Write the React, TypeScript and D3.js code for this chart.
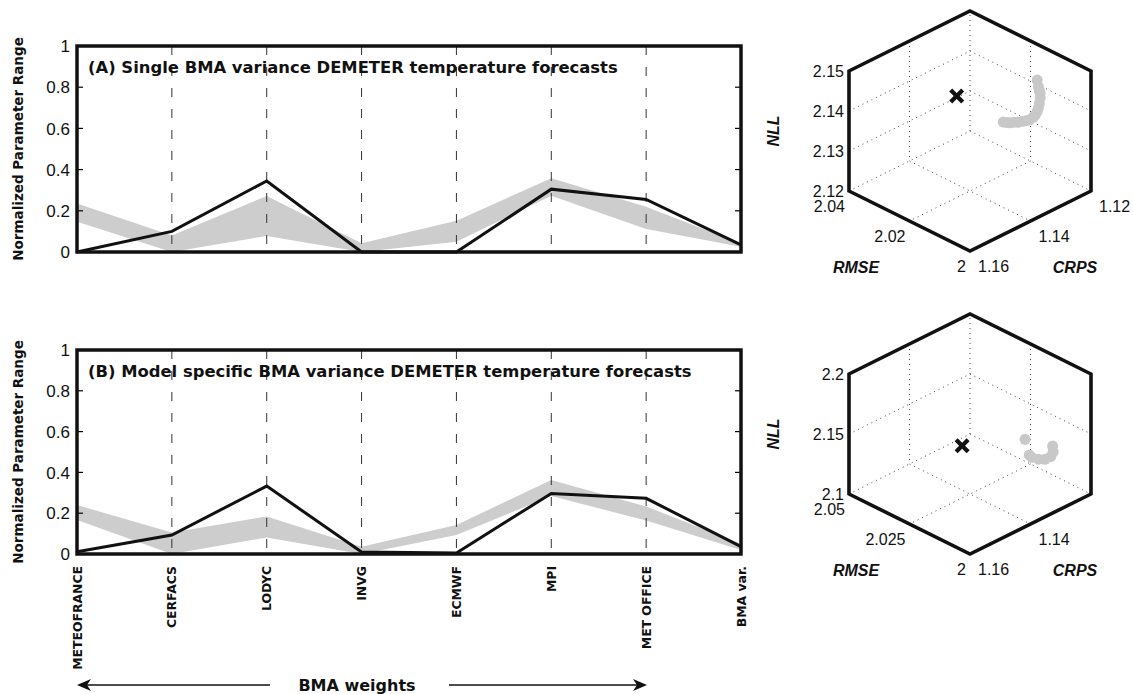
import React from 'react';
import * as d3 from 'd3';

// ---------- data: parallel coordinate panels ----------
const categories = ['METEOFRANCE', 'CERFACS', 'LODYC', 'INVG', 'ECMWF', 'MPI', 'MET OFFICE', 'BMA var.'];
const yTicks = [0, 0.2, 0.4, 0.6, 0.8, 1];
const yTickLabels = ['0', '0.2', '0.4', '0.6', '0.8', '1'];

const bestA = [0, 0.1, 0.345, 0, 0, 0.305, 0.255, 0.035];
const bandUpperA = [0.236, 0.08, 0.272, 0.042, 0.152, 0.358, 0.22, 0.04];
const bandLowerA = [0.147, 0, 0.078, 0, 0.05, 0.273, 0.112, 0.025];

const bestB = [0.011, 0.093, 0.333, 0.01, 0.005, 0.297, 0.273, 0.036];
const bandUpperB = [0.24, 0.105, 0.184, 0.036, 0.142, 0.363, 0.233, 0.05];
const bandLowerB = [0.167, 0, 0.081, 0, 0.093, 0.284, 0.164, 0.02];

const titleA = '(A) Single BMA variance DEMETER temperature forecasts';
const titleB = '(B) Model specific BMA variance DEMETER temperature forecasts';

// ---------- data: 3-D objective space (hexagon plots) ----------
const rmseDomainA = [2.04, 2.0];
const crpsDomainA = [1.16, 1.12];
const nllDomainA = [2.12, 2.15];
const rmseTicksA = [2.04, 2.02, 2];
const rmseTickLabelsA = ['2.04', '2.02', '2'];
const crpsTicksA = [1.16, 1.14, 1.12];
const crpsTickLabelsA = ['1.16', '1.14', '1.12'];
const nllTicksA = [2.12, 2.13, 2.14, 2.15];
const nllTickLabelsA = ['2.12', '2.13', '2.14', '2.15'];

const paretoCrpsA = [1.1218, 1.1214, 1.1211, 1.1208, 1.1208, 1.1211, 1.1214, 1.1218, 1.1224, 1.1231, 1.1242, 1.1252, 1.1266, 1.128, 1.1294, 1.1308, 1.1319, 1.133];
const paretoNllA = [2.1424, 2.1406, 2.1395, 2.1388, 2.1376, 2.1363, 2.1352, 2.1345, 2.1339, 2.1336, 2.1334, 2.1336, 2.1339, 2.1342, 2.1347, 2.1351, 2.1356, 2.1361];
const paretoRmseA = [2.016, 2.016, 2.016, 2.016, 2.016, 2.016, 2.016, 2.016, 2.016, 2.016, 2.016, 2.016, 2.016, 2.016, 2.016, 2.016, 2.016, 2.016];
const optimumA = { rmse: 2.0339, crps: 1.1305, nll: 2.135 };

const rmseDomainB = [2.05, 2.0];
const crpsDomainB = [1.16, 1.12];
const nllDomainB = [2.1, 2.2];
const rmseTicksB = [2.05, 2.025, 2];
const rmseTickLabelsB = ['2.05', '2.025', '2'];
const crpsTicksB = [1.16, 1.14];
const crpsTickLabelsB = ['1.16', '1.14'];
const nllTicksB = [2.1, 2.15, 2.2];
const nllTickLabelsB = ['2.1', '2.15', '2.2'];

const paretoCrpsB = [1.1318, 1.1227, 1.1225, 1.1233, 1.1252, 1.1274, 1.1296, 1.1304];
const paretoNllB = [2.1478, 2.1308, 2.1258, 2.1228, 2.1229, 2.1258, 2.1301, 2.133];
const paretoRmseB = [2.0125, 2.0125, 2.0125, 2.0125, 2.0125, 2.0125, 2.0125, 2.0125];
const optimumB = { rmse: 2.035, crps: 1.1346, nll: 2.1234 };

// ---------- layout ----------
const W = 1133;
const H = 694;
const PLOT_LEFT = 77;
const PLOT_RIGHT = 741;
const BOLD_FONT = '"DejaVu Sans", Verdana, sans-serif';
const NUM_FONT = '"Liberation Sans", Arial, Helvetica, sans-serif';
const BAND = '#cdcdcd';

const xScale = d3.scalePoint<string>().domain(categories).range([PLOT_LEFT, PLOT_RIGHT]);

type PanelProps = {
  top: number;
  bottom: number;
  title: string;
  best: number[];
  upper: number[];
  lower: number[];
};

function Panel({ top, bottom, title, best, upper, lower }: PanelProps) {
  const y = d3.scaleLinear().domain([0, 1]).range([bottom, top]);
  const xi = (i: number) => xScale(categories[i]) as number;
  const area = d3
    .area<number>()
    .x((_, i) => xi(i))
    .y0((_, i) => y(lower[i]))
    .y1((d) => y(d));
  const line = d3
    .line<number>()
    .x((_, i) => xi(i))
    .y((d) => y(d));
  const midY = (top + bottom) / 2;
  return (
    <g>
      <path d={area(upper) || ''} fill={BAND} stroke="none" />
      {categories.slice(1, -1).map((c) => (
        <line
          key={c}
          x1={xScale(c)}
          x2={xScale(c)}
          y1={top}
          y2={bottom}
          stroke="#333"
          strokeWidth={1}
          strokeDasharray="9,12"
        />
      ))}
      {yTicks.slice(1, -1).map((t) => (
        <g key={t}>
          <line x1={PLOT_LEFT} x2={PLOT_LEFT + 6} y1={y(t)} y2={y(t)} stroke="#000" strokeWidth={1.2} />
          <line x1={PLOT_RIGHT} x2={PLOT_RIGHT - 6} y1={y(t)} y2={y(t)} stroke="#000" strokeWidth={1.2} />
        </g>
      ))}
      <path d={line(best) || ''} fill="none" stroke="#111" strokeWidth={3} strokeLinejoin="miter" />
      <rect
        x={PLOT_LEFT}
        y={top}
        width={PLOT_RIGHT - PLOT_LEFT}
        height={bottom - top}
        fill="none"
        stroke="#111"
        strokeWidth={3.5}
      />
      {yTicks.map((t, i) => (
        <text
          key={t}
          x={70}
          y={y(t)}
          dy="0.36em"
          textAnchor="end"
          fontFamily={NUM_FONT}
          fontSize={17}
          fill="#111"
        >
          {yTickLabels[i]}
        </text>
      ))}
      <text
        transform={`translate(23,${midY}) rotate(-90)`}
        textAnchor="middle"
        fontFamily={BOLD_FONT}
        fontWeight="bold"
        fontSize={13.5}
        fill="#111"
      >
        Normalized Parameter Range
      </text>
      <text x={88} y={top + 27} fontFamily={BOLD_FONT} fontWeight="bold" fontSize={16.4} fill="#111">
        {title}
      </text>
    </g>
  );
}

type HexProps = {
  ox: number;
  oy: number;
  rmseDomain: number[];
  crpsDomain: number[];
  nllDomain: number[];
  rmseTicks: number[];
  rmseLabels: string[];
  crpsTicks: number[];
  crpsLabels: string[];
  nllTicks: number[];
  nllLabels: string[];
  pRmse: number[];
  pCrps: number[];
  pNll: number[];
  opt: { rmse: number; crps: number; nll: number };
};

const DX = 121;
const DY = 60;
const DZ = 120;

function Hex(props: HexProps) {
  const { ox, oy } = props;
  const sa = d3.scaleLinear().domain(props.rmseDomain).range([0, 1]);
  const sb = d3.scaleLinear().domain(props.crpsDomain).range([0, 1]);
  const sc = d3.scaleLinear().domain(props.nllDomain).range([0, 1]);
  const P = (a: number, b: number, c: number): [number, number] => [
    ox + DX * (a + b),
    oy + DY * (a - b) - DZ * c,
  ];
  const poly = (pts: [number, number][]) => 'M' + pts.map((p) => p.join(',')).join('L');
  const dotted = { stroke: '#444', strokeWidth: 1, strokeDasharray: '1,4', fill: 'none' };

  const grid: string[] = [];
  grid.push(poly([P(0, 1, 0), P(0, 1, 1)]));
  grid.push(poly([P(0, 0, 0), P(0, 1, 0), P(1, 1, 0)]));
  props.nllTicks.forEach((t) => {
    const c = sc(t);
    if (c > 0.001 && c < 0.999) grid.push(poly([P(0, 0, c), P(0, 1, c), P(1, 1, c)]));
  });
  props.crpsTicks.forEach((t) => {
    const b = sb(t);
    if (b > 0.001 && b < 0.999) grid.push(poly([P(0, b, 1), P(0, b, 0), P(1, b, 0)]));
  });
  props.rmseTicks.forEach((t) => {
    const a = sa(t);
    if (a > 0.001 && a < 0.999) grid.push(poly([P(a, 1, 1), P(a, 1, 0), P(a, 0, 0)]));
  });

  const hexPts = [P(0, 0, 0), P(1, 0, 0), P(1, 1, 0), P(1, 1, 1), P(0, 1, 1), P(0, 0, 1)];
  const opt = P(sa(props.opt.rmse), sb(props.opt.crps), sc(props.opt.nll));
  const s = 6;

  return (
    <g>
      {grid.map((d, i) => (
        <path key={i} d={d} {...dotted} />
      ))}
      {props.pRmse.map((r, i) => {
        const p = P(sa(r), sb(props.pCrps[i]), sc(props.pNll[i]));
        return <circle key={i} cx={p[0]} cy={p[1]} r={5.5} fill="#c8c8c8" />;
      })}
      <g stroke="#111" strokeWidth={4.2} strokeLinecap="butt">
        <line x1={opt[0] - s} y1={opt[1] - s} x2={opt[0] + s} y2={opt[1] + s} />
        <line x1={opt[0] - s} y1={opt[1] + s} x2={opt[0] + s} y2={opt[1] - s} />
      </g>
      <path d={poly(hexPts) + 'Z'} fill="none" stroke="#111" strokeWidth={3.6} strokeLinejoin="miter" />
      {props.nllTicks.map((t, i) => {
        const p = P(0, 0, sc(t));
        return (
          <text key={'n' + t} x={p[0] - 5} y={p[1]} dy="0.36em" textAnchor="end" fontFamily={NUM_FONT} fontSize={16} fill="#111">
            {props.nllLabels[i]}
          </text>
        );
      })}
      {props.rmseTicks.map((t, i) => {
        const p = P(sa(t), 0, 0);
        return (
          <text key={'r' + t} x={p[0] - 4} y={p[1] + 15} dy="0.36em" textAnchor="end" fontFamily={NUM_FONT} fontSize={16} fill="#111">
            {props.rmseLabels[i]}
          </text>
        );
      })}
      {props.crpsTicks.map((t, i) => {
        const p = P(1, sb(t), 0);
        return (
          <text key={'c' + t} x={p[0] + 8} y={p[1] + 15} dy="0.36em" textAnchor="start" fontFamily={NUM_FONT} fontSize={16} fill="#111">
            {props.crpsLabels[i]}
          </text>
        );
      })}
      <text
        transform={`translate(${ox - 70},${oy - 60}) rotate(-90)`}
        textAnchor="middle"
        fontFamily={NUM_FONT}
        fontWeight="bold"
        fontStyle="italic"
        fontSize={16}
        fill="#111"
      >
        NLL
      </text>
      <text x={ox + 7} y={oy + 76} dy="0.36em" textAnchor="middle" fontFamily={NUM_FONT} fontWeight="bold" fontStyle="italic" fontSize={16} fill="#111">
        RMSE
      </text>
      <text x={ox + 226} y={oy + 76} dy="0.36em" textAnchor="middle" fontFamily={NUM_FONT} fontWeight="bold" fontStyle="italic" fontSize={16} fill="#111">
        CRPS
      </text>
    </g>
  );
}

export default function App() {
  const arrowY = 685;
  return (
    <svg
      width={W}
      height={H}
      viewBox={`0 0 ${W} ${H}`}
      style={{ position: 'absolute', left: 0, top: 0, background: '#fff' }}
    >
      <rect x={0} y={0} width={W} height={H} fill="#fff" />
      <Panel top={46} bottom={252} title={titleA} best={bestA} upper={bandUpperA} lower={bandLowerA} />
      <Panel top={350} bottom={554} title={titleB} best={bestB} upper={bandUpperB} lower={bandLowerB} />

      {categories.map((c) => (
        <text
          key={c}
          transform={`translate(${(xScale(c) as number) + 4.5},566) rotate(-90)`}
          textAnchor="end"
          fontFamily={BOLD_FONT}
          fontWeight="bold"
          fontSize={12.4}
          fill="#111"
        >
          {c}
        </text>
      ))}

      {/* BMA weights arrows */}
      <line x1={84} x2={270} y1={arrowY} y2={arrowY} stroke="#111" strokeWidth={1.6} />
      <path d={`M77,${arrowY} L91,${arrowY - 6} L87,${arrowY} L91,${arrowY + 6} Z`} fill="#111" />
      <line x1={449} x2={640} y1={arrowY} y2={arrowY} stroke="#111" strokeWidth={1.6} />
      <path d={`M647,${arrowY} L633,${arrowY - 6} L637,${arrowY} L633,${arrowY + 6} Z`} fill="#111" />
      <text x={357} y={arrowY} dy="0.36em" textAnchor="middle" fontFamily={BOLD_FONT} fontWeight="bold" fontSize={16} fill="#111">
        BMA weights
      </text>

      <Hex
        ox={849}
        oy={191}
        rmseDomain={rmseDomainA}
        crpsDomain={crpsDomainA}
        nllDomain={nllDomainA}
        rmseTicks={rmseTicksA}
        rmseLabels={rmseTickLabelsA}
        crpsTicks={crpsTicksA}
        crpsLabels={crpsTickLabelsA}
        nllTicks={nllTicksA}
        nllLabels={nllTickLabelsA}
        pRmse={paretoRmseA}
        pCrps={paretoCrpsA}
        pNll={paretoNllA}
        opt={optimumA}
      />
      <Hex
        ox={849}
        oy={494}
        rmseDomain={rmseDomainB}
        crpsDomain={crpsDomainB}
        nllDomain={nllDomainB}
        rmseTicks={rmseTicksB}
        rmseLabels={rmseTickLabelsB}
        crpsTicks={crpsTicksB}
        crpsLabels={crpsTickLabelsB}
        nllTicks={nllTicksB}
        nllLabels={nllTickLabelsB}
        pRmse={paretoRmseB}
        pCrps={paretoCrpsB}
        pNll={paretoNllB}
        opt={optimumB}
      />
    </svg>
  );
}
